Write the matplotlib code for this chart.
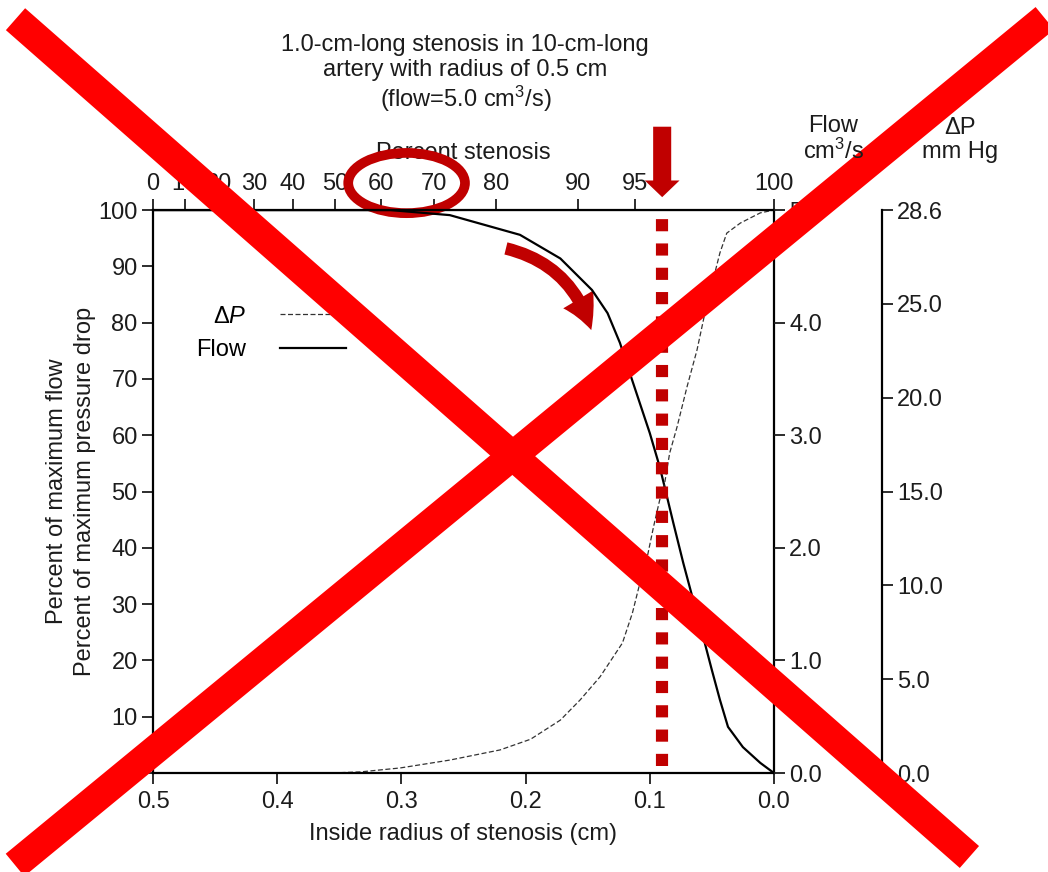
import numpy as np
import matplotlib
matplotlib.use("Agg")
import matplotlib.pyplot as plt
from matplotlib.lines import Line2D
from matplotlib.patches import Ellipse, FancyArrowPatch

plt.rcParams['font.family'] = ['Liberation Sans', 'DejaVu Sans']
plt.rcParams['mathtext.fontset'] = 'custom'
plt.rcParams['mathtext.rm'] = 'Liberation Sans'
plt.rcParams['mathtext.it'] = 'Liberation Sans:italic'
plt.rcParams['font.size'] = 17

# radius of stenosis (cm) vs percent of maximum flow
flow_r = [0.5, 0.309, 0.261, 0.2045, 0.172, 0.1465, 0.134, 0.124, 0.116, 0.108,
          0.100, 0.092, 0.088, 0.081, 0.073, 0.065, 0.057, 0.050, 0.0435, 0.037,
          0.025, 0.011, 0.0]
flow_pct = [100, 100, 99.1, 95.6, 91.4, 85.8, 81.7, 76.4, 71.0, 65.7,
            60.4, 54.4, 50.8, 44.4, 37.3, 30.7, 24.2, 18.3, 13.0, 8.2,
            4.6, 1.8, 0]

# radius vs percent of maximum pressure drop
dp_r = [0.5, 0.357, 0.333, 0.301, 0.261, 0.2206, 0.196, 0.172, 0.156, 0.140,
        0.122, 0.114, 0.108, 0.102, 0.097, 0.092, 0.088, 0.084, 0.078, 0.070,
        0.062, 0.0556, 0.049, 0.0435, 0.038, 0.027, 0.011, 0.0]
dp_pct = [0, 0, 0.2, 0.9, 2.3, 4.1, 6.0, 9.4, 13.0, 17.1,
          23.1, 28.4, 33.7, 38.4, 43.7, 48.5, 51.5, 56.8, 61.5, 68.6,
          75.1, 81.7, 87.6, 92.4, 95.9, 97.7, 99.5, 100]

radius_ticks = [0.5, 0.4, 0.3, 0.2, 0.1, 0.0]
pct_ticks = list(range(0, 101, 10))
pct_labels = [''] + [str(v) for v in pct_ticks[1:]]
stenosis_ticks = [0, 10, 20, 30, 40, 50, 60, 70, 80, 90, 95, 100]
flow_ticks = [0, 1, 2, 3, 4, 5]
flow_labels = ['0.0', '1.0', '2.0', '3.0', '4.0', '5.0']
dp_ticks = [0, 5, 10, 15, 20, 25, 30]
dp_labels = ['0.0', '5.0', '10.0', '15.0', '20.0', '25.0', '28.6']

marked_r = 0.09   # red dotted marker
RED = '#ff0000'
DARKRED = '#c00000'
INK = '#1c1c1c'
FS = 17

fig = plt.figure(figsize=(10.48, 8.72), dpi=100)
ax = fig.add_axes([0.146, 0.1135, 0.5925, 0.6456])

ax.plot(flow_r, flow_pct, color='black', lw=1.6, label='Flow')
ax.plot(dp_r, dp_pct, color='#333333', lw=0.9, ls=(0, (4, 2)), label=r'$\Delta P$')
ax.set_xlim(0.5, 0.0)
ax.set_ylim(0, 100)
ax.set_xticks(radius_ticks)
ax.set_xticklabels(['%.1f' % v for v in radius_ticks])
ax.set_yticks(pct_ticks)
ax.set_yticklabels(pct_labels)
ax.tick_params(axis='y', direction='out', length=8, width=1.3, colors=INK, labelsize=FS, pad=3)
ax.tick_params(axis='x', direction='out', length=8, width=1.3, colors=INK, labelsize=FS, pad=5)
for s in ax.spines.values():
    s.set_linewidth(1.6)
ax.set_xlabel('Inside radius of stenosis (cm)', color=INK, labelpad=7)
ax.set_ylabel('Percent of maximum flow\nPercent of maximum pressure drop', color=INK,
              labelpad=2, linespacing=1.35)

# percent stenosis (area) on top
def r2p(r):
    return 100 * (1 - (np.asarray(r) / 0.5) ** 2)

def p2r(p):
    return 0.5 * np.sqrt(np.clip(1 - np.asarray(p) / 100, 0, None))

sec = ax.secondary_xaxis('top', functions=(r2p, p2r))
sec.set_xticks(stenosis_ticks)
sec.set_xticklabels([str(v) for v in stenosis_ticks])
sec.tick_params(direction='out', length=8, width=1.3, colors=INK, labelsize=FS, pad=3)
sec.set_xlabel('Percent stenosis', color=INK, labelpad=10)

# flow axis on the right spine
axf = ax.twinx()
axf.set_ylim(0, 5)
axf.set_yticks(flow_ticks)
axf.set_yticklabels(flow_labels)
axf.tick_params(direction='out', length=8, width=1.3, colors=INK, labelsize=FS, pad=3)
for s in axf.spines.values():
    s.set_visible(False)

# pressure drop axis
axp = ax.twinx()
axp.spines['right'].set_position(('axes', 1.174))
for k in ['left', 'top', 'bottom']:
    axp.spines[k].set_visible(False)
axp.spines['right'].set_linewidth(1.6)
axp.set_ylim(0, 30)
axp.set_yticks(dp_ticks)
axp.set_yticklabels(dp_labels)
axp.tick_params(direction='out', length=8, width=1.3, colors=INK, labelsize=FS, pad=3)

fig.text(0.795, 0.840, 'Flow\ncm$^3$/s', ha='center', va='center', color=INK, linespacing=1.12)
fig.text(0.916, 0.840, 'ΔP\nmm Hg', ha='center', va='center', color=INK, linespacing=1.12)
fig.text(0.444, 0.915, '1.0-cm-long stenosis in 10-cm-long\nartery with radius of 0.5 cm\n(flow=5.0 cm$^3$/s)',
         ha='center', va='center', color=INK, linespacing=1.14)

h, l = ax.get_legend_handles_labels()
ax.legend(h[::-1], l[::-1], loc='upper left', bbox_to_anchor=(0.036, 0.868), frameon=False,
          markerfirst=False, handlelength=2.8, handletextpad=1.4, labelspacing=0.5,
          fontsize=FS)

# red annotations
ax.plot([marked_r, marked_r], [1.24, 98.6], color=DARKRED, lw=8.75, ls=(0, (1, 1)),
        dash_capstyle='butt', solid_capstyle='butt')
ax.add_patch(FancyArrowPatch((marked_r, 115.3), (marked_r, 101.8), transform=ax.transData,
                             arrowstyle='Simple,tail_width=13,head_width=25,head_length=12',
                             mutation_scale=1, color=DARKRED, lw=0, clip_on=False))
ax.add_patch(Ellipse((p2r(65), 104.8), 0.094, 10.7, transform=ax.transData, fill=False,
                     ec=DARKRED, lw=7, clip_on=False))
ax.add_patch(FancyArrowPatch((0.218, 93.3), (0.1465, 78.2), transform=ax.transData,
                             connectionstyle='arc3,rad=-0.3',
                             arrowstyle='Simple,tail_width=9,head_width=25,head_length=24',
                             mutation_scale=1, color=DARKRED, lw=0, clip_on=False))

fig.add_artist(Line2D([0.0148, 0.925], [0.978, 0.0172], transform=fig.transFigure,
                      color=RED, lw=21, solid_capstyle='butt'))
fig.add_artist(Line2D([0.997, 0.0143], [0.979, 0.008], transform=fig.transFigure,
                      color=RED, lw=21, solid_capstyle='butt'))

fig.savefig('out.png', dpi=100)
